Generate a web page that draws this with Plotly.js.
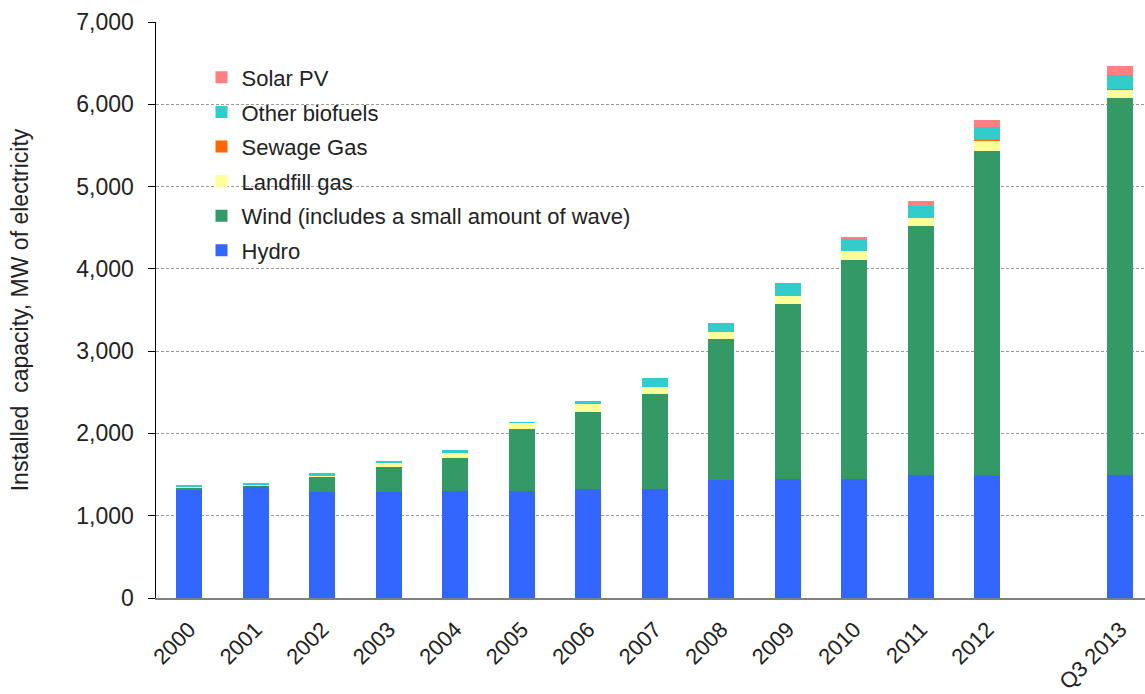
<!DOCTYPE html>
<html>
<head>
<meta charset="utf-8">
<script src="https://cdn.plot.ly/plotly-3.0.1.min.js"></script>
<style>
  html, body { margin: 0; padding: 0; background: #fff; }
  #chart { width: 1145px; height: 694px; }
</style>
</head>
<body>
<div id="chart"></div>
<script>
// Categories (a blank slot separates 2012 from Q3 2013, as in the original)
const categories = ['2000','2001','2002','2003','2004','2005','2006','2007','2008','2009','2010','2011','2012',' ','Q3 2013'];

// Installed capacity, MW
const hydro     = [1314, 1347, 1290, 1286, 1305, 1305, 1330, 1330, 1436, 1448, 1448, 1492, 1492, null, 1492];
const wind      = [  28,   20,  186,  304,  395,  747,  936, 1152, 1715, 2125, 2664, 3025, 3946, null, 4587];
const landfill  = [   8,    8,   10,   46,   57,   70,   90,   85,   85,  101,  108,   97,  118, null,  100];
const sewage    = [   2,    2,    2,    2,    2,    2,    2,    2,    2,    2,    2,    2,   12, null,    3];
const biofuels  = [  25,   25,   28,   31,   42,   20,   40,  105,  102,  150,  142,  150,  162, null,  171];
const solar     = [   0,    0,    0,    0,    0,    0,    0,    0,    0,    0,   28,   61,   81, null,  113];

const seriesNames = ['Hydro', 'Wind (includes a small amount of wave)', 'Landfill gas', 'Sewage Gas', 'Other biofuels', 'Solar PV'];
const seriesColors = ['#3366FF', '#339966', '#FFFF99', '#FF6600', '#33CCCC', '#FF8080'];
const seriesValues = [hydro, wind, landfill, sewage, biofuels, solar];

const yTickVals = [0, 1000, 2000, 3000, 4000, 5000, 6000, 7000];

const traces = seriesValues.map((vals, i) => ({
  type: 'bar',
  x: categories,
  y: vals,
  name: seriesNames[i],
  legendgroup: 'g' + i,
  legendrank: seriesValues.length - i,
  marker: { color: seriesColors[i], line: { width: 0 } },
  hoverinfo: 'x+y+name'
}));

const FONT = 'Liberation Sans, Arial, sans-serif';

const layout = {
  width: 1145,
  height: 694,
  margin: { l: 156, r: 0, t: 22, b: 96 },
  paper_bgcolor: '#ffffff',
  plot_bgcolor: '#ffffff',
  barmode: 'stack',
  bargap: 0.61,
  showlegend: true,
  font: { family: FONT, color: '#222222' },
  legend: {
    x: 0.046, y: 0.940, xanchor: 'left', yanchor: 'top',
    bgcolor: 'rgba(255,255,255,0)',
    borderwidth: 0,
    traceorder: 'grouped',
    tracegroupgap: 3,
    font: { family: FONT, size: 22, color: '#222222' }
  },
  xaxis: {
    type: 'category',
    categoryorder: 'array',
    categoryarray: categories,
    range: [-0.5, 14.37],
    tickangle: -45,
    tickfont: { family: FONT, size: 22, color: '#222222' },
    ticklabelstandoff: 8,
    showline: true,
    linecolor: '#808080',
    linewidth: 2,
    ticks: '',
    showgrid: false,
    zeroline: false,
    fixedrange: true
  },
  yaxis: {
    range: [0, 7000],
    tickvals: yTickVals,
    tickformat: ',',
    tickfont: { family: FONT, size: 23, color: '#222222' },
    ticks: 'outside',
    ticklen: 7,
    tickwidth: 1,
    tickcolor: '#000000',
    ticklabelstandoff: 9,
    showline: true,
    linecolor: '#000000',
    linewidth: 1.5,
    showgrid: true,
    gridcolor: '#9a9a9a',
    gridwidth: 1,
    griddash: '3px,2px',
    zeroline: false,
    fixedrange: true,
    title: {
      text: 'Installed  capacity, MW of electricity',
      font: { family: FONT, size: 23, color: '#222222' },
      standoff: 41
    }
  }
};

Plotly.newPlot('chart', traces, layout, { displayModeBar: false, staticPlot: true });
</script>
</body>
</html>
